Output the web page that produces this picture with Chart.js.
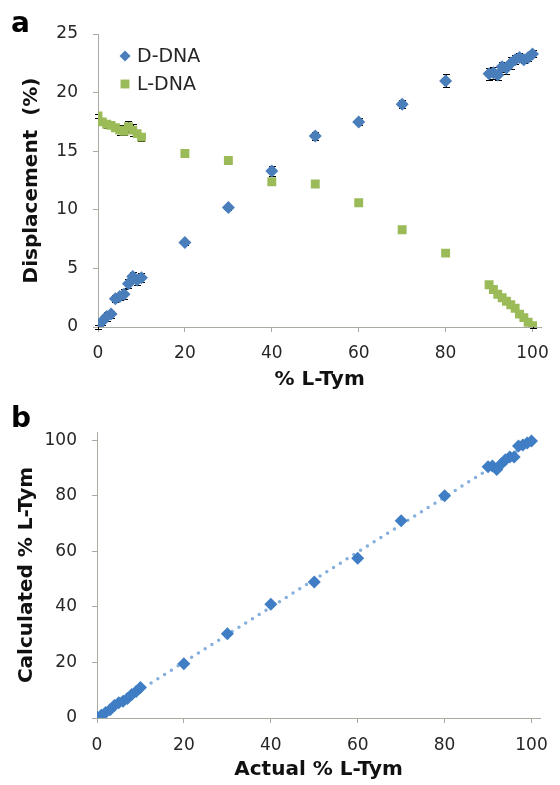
<!DOCTYPE html>
<html>
<head>
<meta charset="utf-8">
<script src="https://cdn.jsdelivr.net/npm/chart.js@4.4.0/dist/chart.umd.min.js"></script>
<style>
  html, body { margin: 0; padding: 0; background: #ffffff; }
  .panel { position: relative; width: 560px; }
  #panelA { height: 395px; }
  #panelB { height: 390px; }
</style>
</head>
<body>
<div class="panel" id="panelA"><canvas id="chartA"></canvas></div>
<div class="panel" id="panelB"><canvas id="chartB"></canvas></div>
<script>
// % L-Tym in the samples (x of both panels)
const lTym = [0, 1, 2, 3, 4, 5, 6, 7, 8, 9, 10, 20, 30, 40, 50, 60, 70, 80,
              90, 91, 92, 93, 94, 95, 96, 97, 98, 99, 100];

// panel a : displacement (%)
const dDNA    = [0, 0.5, 0.9, 1.1, 2.4, 2.6, 2.8, 3.7, 4.3, 4.0, 4.2, 7.2, 10.2, 13.3, 16.3, 17.5, 19.0, 21.0,
                 21.6, 21.7, 21.5, 22.2, 22.1, 22.5, 22.8, 23.0, 22.8, 23.0, 23.3];
const dDNAErr = [0.2, 0.3, 0.4, 0.3, 0.3, 0.3, 0.4, 0.4, 0.4, 0.4, 0.4, 0.2, 0.2, 0.45, 0.35, 0.3, 0.35, 0.55,
                 0.5, 0.5, 0.4, 0.4, 0.5, 0.5, 0.4, 0.4, 0.3, 0.3, 0.3];
const lDNA    = [18.0, 17.5, 17.3, 17.2, 17.0, 16.8, 16.7, 17.1, 16.8, 16.5, 16.2, 14.8, 14.2, 12.4, 12.2, 10.6, 8.3, 6.3,
                 3.6, 3.2, 2.8, 2.5, 2.2, 1.9, 1.6, 1.1, 0.8, 0.4, 0.1];
const lDNAErr = [0.2, 0.3, 0.3, 0.2, 0.3, 0.4, 0.3, 0.5, 0.5, 0.3, 0.3, 0.15, 0.15, 0.2, 0.15, 0.15, 0.15, 0.15,
                 0.15, 0.15, 0.15, 0.15, 0.15, 0.15, 0.15, 0.15, 0.15, 0.15, 0.15];

// panel b : calculated % L-Tym
const calcLTym = [0.3, 1, 2, 3, 4.5, 5.5, 6, 7, 8.5, 9.5, 11, 19.5, 30.3, 41, 49, 57.5, 71, 80,
                  90.5, 90.8, 89.5, 91.5, 93, 94, 94, 98, 98.3, 99, 99.8];

const xTicks  = [0, 20, 40, 60, 80, 100];
const yTicksA = [0, 5, 10, 15, 20, 25];
const yTicksB = [0, 20, 40, 60, 80, 100];

const FONT = '"DejaVu Sans", "Liberation Sans", Arial, sans-serif';
const AXIS_GREY = '#a9aba3';
const TEXT = '#262626';

Chart.defaults.font.family = FONT;
Chart.defaults.color = TEXT;

function points(xs, ys) {
    return xs.map((x, i) => ({ x: x, y: ys[i] }));
}

// least squares line for the trend in panel b
function trendLine(xs, ys) {
    const n = xs.length;
    const mx = xs.reduce((a, b) => a + b, 0) / n;
    const my = ys.reduce((a, b) => a + b, 0) / n;
    let sxy = 0, sxx = 0;
    xs.forEach((x, i) => { sxy += (x - mx) * (ys[i] - my); sxx += (x - mx) * (x - mx); });
    const m = sxy / sxx;
    const b = my - m * mx;
    return [{ x: 0, y: b }, { x: 100, y: m * 100 + b }];
}

function axis(min, max, ticks, title, opts) {
    return {
        type: 'linear',
        min: min,
        max: max,
        afterBuildTicks: s => { s.ticks = ticks.map(v => ({ value: v })); },
        afterFit: s => {
            if (opts.width) s.width = opts.width;
            if (opts.height) s.height = opts.height;
        },
        grid: { drawOnChartArea: false, drawTicks: true, tickLength: 5, color: AXIS_GREY },
        border: { display: true, color: AXIS_GREY, width: 1 },
        ticks: { font: { size: 17 }, color: TEXT, padding: opts.pad },
        title: {
            display: true,
            text: title,
            font: { size: 20, weight: 'bold' },
            color: '#111',
            padding: 0
        }
    };
}

// error bars drawn behind the markers
const errorBars = {
    id: 'errorBars',
    beforeDatasetsDraw(chart) {
        const { ctx, scales: { x, y } } = chart;
        ctx.save();
        ctx.strokeStyle = '#000';
        ctx.lineWidth = 1;
        chart.data.datasets.forEach(ds => {
            if (!ds.errors) return;
            ds.data.forEach((p, i) => {
                const e = ds.errors[i];
                const px = Math.round(x.getPixelForValue(p.x)) + 0.5;
                const top = Math.round(y.getPixelForValue(p.y + e)) + 0.5;
                const bot = Math.round(y.getPixelForValue(p.y - e)) + 0.5;
                ctx.beginPath();
                ctx.moveTo(px, top); ctx.lineTo(px, bot);
                ctx.moveTo(px - 3.5, top); ctx.lineTo(px + 3.5, top);
                ctx.moveTo(px - 3.5, bot); ctx.lineTo(px + 3.5, bot);
                ctx.stroke();
            });
        });
        ctx.restore();
    }
};

// legend inside the plot area, top left
const insideLegend = {
    id: 'insideLegend',
    afterDraw(chart, args, opts) {
        if (!opts.show) return;
        const { ctx, chartArea } = chart;
        ctx.save();
        ctx.font = '19px ' + FONT;
        ctx.textBaseline = 'middle';
        chart.data.datasets.forEach((ds, i) => {
            const cx = chartArea.left + 27;
            const cy = chartArea.top + 22 + i * 28;
            ctx.fillStyle = ds.backgroundColor;
            Chart.helpers.drawPoint(ctx, { pointStyle: ds.pointStyle, radius: ds.legendRadius, borderWidth: 0 }, cx, cy);
            ctx.fillStyle = TEXT;
            ctx.fillText(ds.label, cx + 12, cy + 1);
        });
        ctx.restore();
    }
};

// the "a" / "b" panel letter
const panelLetter = {
    id: 'panelLetter',
    afterDraw(chart, args, opts) {
        const ctx = chart.ctx;
        ctx.save();
        ctx.font = 'bold 28px ' + FONT;
        ctx.fillStyle = '#000';
        ctx.textBaseline = 'alphabetic';
        ctx.fillText(opts.text, 11, 32);
        ctx.restore();
    }
};

new Chart(document.getElementById('chartA'), {
    type: 'scatter',
    data: {
        datasets: [{
            label: 'D-DNA',
            data: points(lTym, dDNA),
            errors: dDNAErr,
            pointStyle: 'rectRot',
            pointRadius: 6.5,
            legendRadius: 5.5,
            backgroundColor: '#4a7ebb',
            borderWidth: 0,
            order: 1
        }, {
            label: 'L-DNA',
            data: points(lTym, lDNA),
            errors: lDNAErr,
            pointStyle: 'rect',
            pointRadius: 6.3,
            legendRadius: 6.3,
            backgroundColor: '#9bbb59',
            borderWidth: 0,
            order: 0
        }]
    },
    options: {
        responsive: true,
        maintainAspectRatio: false,
        animation: false,
        devicePixelRatio: 1,
        layout: { padding: { left: 20, right: 13, top: 34, bottom: 3 } },
        scales: {
            x: axis(0, 102, xTicks, '% L-Tym', { height: 65, pad: 11 }),
            y: axis(0, 25, yTicksA, 'Displacement  (%)', { width: 78, pad: 15 })
        },
        plugins: {
            legend: { display: false },
            tooltip: { enabled: false },
            insideLegend: { show: true },
            panelLetter: { text: 'a' }
        }
    },
    plugins: [errorBars, insideLegend, panelLetter]
});

new Chart(document.getElementById('chartB'), {
    type: 'scatter',
    data: {
        datasets: [{
            label: 'Calculated',
            data: points(lTym, calcLTym),
            pointStyle: 'rectRot',
            pointRadius: 6.5,
            backgroundColor: '#3f7dc4',
            borderWidth: 0,
            order: 0
        }, {
            label: 'Trend',
            data: trendLine(lTym, calcLTym),
            showLine: true,
            pointRadius: 0,
            borderColor: '#86b0dc',
            borderWidth: 3.5,
            borderDash: [0, 8],
            borderCapStyle: 'round',
            order: 1
        }]
    },
    options: {
        responsive: true,
        maintainAspectRatio: false,
        animation: false,
        devicePixelRatio: 1,
        layout: { padding: { left: 15, right: 13, top: 37, bottom: 3 } },
        scales: {
            x: axis(0, 102, xTicks, 'Actual % L-Tym', { height: 64, pad: 12 }),
            y: axis(0, 103, yTicksB, 'Calculated % L-Tym', { width: 82, pad: 15 })
        },
        plugins: {
            legend: { display: false },
            tooltip: { enabled: false },
            panelLetter: { text: 'b' }
        }
    },
    plugins: [panelLetter]
});
</script>
</body>
</html>
